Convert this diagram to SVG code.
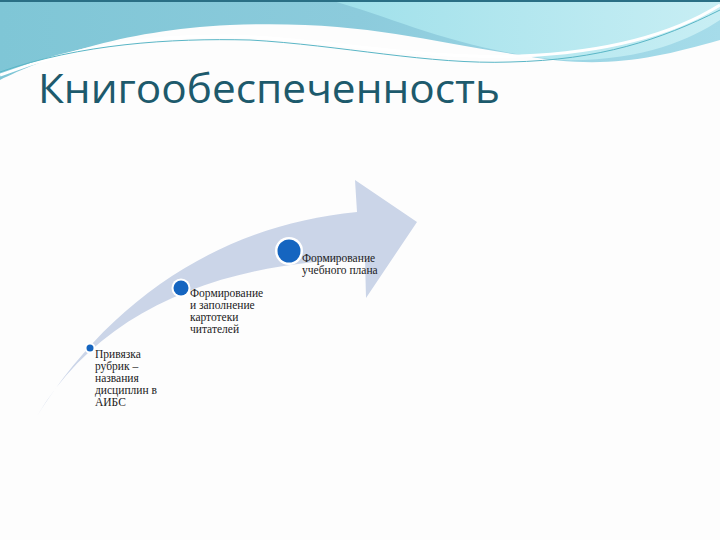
<svg xmlns="http://www.w3.org/2000/svg" width="720" height="540" viewBox="0 0 720 540">
<defs>
<linearGradient id="g1" x1="0" y1="0" x2="1" y2="0">
<stop offset="0" stop-color="#7fc6d6"/><stop offset="0.5" stop-color="#8ccbdc"/><stop offset="1" stop-color="#a6dcea"/>
</linearGradient>
<linearGradient id="g2" x1="0" y1="0" x2="1" y2="0">
<stop offset="0" stop-color="#9fe0ea"/><stop offset="1" stop-color="#c8eef4"/>
</linearGradient>
<style>
.t{font-family:"Liberation Serif","DejaVu Serif",serif;font-size:11.5px;fill:#222}
.ring{fill:#fff}
.dot{fill:#1565c0}
</style>
</defs>
<rect width="720" height="540" fill="#fdfdfd"/>
<g id="background">
<path d="M0 0 H720 V40 C650 60 600 70 520 55 C420 40 360 20 230 25 C120 30 40 60 0 80 Z" fill="url(#g1)"/>
<path d="M330 0 C400 20 460 50 560 60 C640 62 690 40 720 20 V0 Z" fill="url(#g2)"/>
<path d="M0 75 C80 45 150 35 230 36 C320 38 420 60 520 56 C620 52 680 30 720 5" fill="none" stroke="#fff" stroke-width="3"/>
<path d="M0 72 C80 44 170 38 250 40 C340 45 430 65 510 62 C600 60 660 40 720 10" fill="none" stroke="#5ab6c6" stroke-width="1"/>
<rect x="0" y="0" width="720" height="2" fill="#2a6f85"/>
</g>
<g id="title">
<text x="38" y="103" font-family="'Open Sans','Liberation Sans',sans-serif" font-size="40" fill="#1d5a6c" textLength="462" lengthAdjust="spacingAndGlyphs">Книгообеспеченность</text>
</g>
<g id="arrow">
<path d="M37 416 C110 300 220 225 357 212 L355 180 L417 222 L366 298 L365 259 C220 262 100 310 37 416 Z" fill="#cbd5e8"/>
</g>
<g id="node1">
<circle class="ring" cx="90" cy="348" r="5.5"/><circle class="dot" cx="90" cy="348" r="3.5"/>
<text class="t" x="95" y="358">Привязка</text>
<text class="t" x="95" y="370">рубрик –</text>
<text class="t" x="95" y="382">названия</text>
<text class="t" x="95" y="394">дисциплин в</text>
<text class="t" x="95" y="406">АИБС</text>
</g>
<g id="node2">
<circle class="ring" cx="181" cy="288" r="9.5"/><circle class="dot" cx="181" cy="288" r="7.5"/>
<text class="t" x="190" y="297">Формирование</text>
<text class="t" x="190" y="309">и заполнение</text>
<text class="t" x="190" y="321">картотеки</text>
<text class="t" x="190" y="333">читателей</text>
</g>
<g id="node3">
<circle class="ring" cx="289" cy="251" r="14"/><circle class="dot" cx="289" cy="251" r="11.5"/>
<text class="t" x="302" y="262">Формирование</text>
<text class="t" x="302" y="274">учебного плана</text>
</g>
</svg>
